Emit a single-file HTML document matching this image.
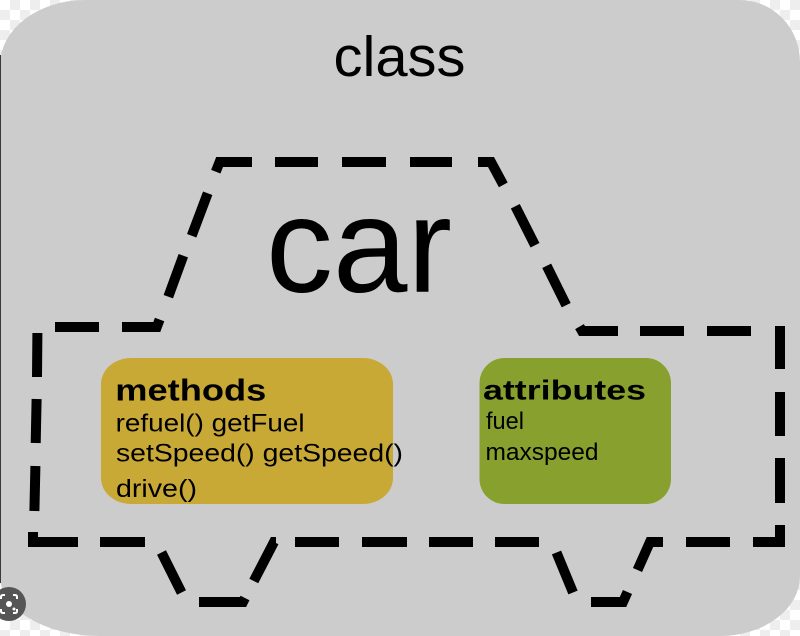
<!DOCTYPE html>
<html>
<head>
<meta charset="utf-8">
<style>
  html, body { margin: 0; padding: 0; background: #ffffff; }
  body { width: 800px; height: 636px; overflow: hidden; }
  svg { display: block; }
  text { font-family: "Liberation Sans", Arial, sans-serif; fill: #000; }
</style>
</head>
<body>
<svg width="800" height="636" viewBox="0 0 800 636" xmlns="http://www.w3.org/2000/svg">
  <defs>
    <pattern id="chk" x="0" y="0" width="20" height="20" patternUnits="userSpaceOnUse">
      <rect width="20" height="20" fill="#ffffff"/>
      <rect x="10" y="0" width="10" height="10" fill="#eeeeee"/>
      <rect x="0" y="10" width="10" height="10" fill="#eeeeee"/>
    </pattern>
  </defs>

  <!-- transparent checker background -->
  <rect x="0" y="0" width="800" height="636" fill="url(#chk)"/>

  <!-- main gray rounded shape -->
  <path d="M0,65 A85,65 0 0 1 85,0 L740,0 A60,62 0 0 1 800,62 L800,576 A80,60 0 0 1 720,636 L100,636 A100,60 0 0 1 0,576 Z" fill="#cccccc"/>
  <rect x="0" y="55" width="1" height="528" fill="#3a3a3a"/>

  <!-- class label -->
  <text x="333.5" y="76" font-size="57" textLength="132" lengthAdjust="spacingAndGlyphs">class</text>

  <!-- car label -->
  <text x="266" y="291.7" font-size="135" textLength="186" lengthAdjust="spacingAndGlyphs">car</text>

  <!-- dashed car outline -->
  <g fill="none" stroke="#000" stroke-width="10" stroke-linecap="butt" stroke-linejoin="miter" stroke-miterlimit="6">
    <path d="M215.8,171.7 L219.6,162 L252,162"/>
    <path d="M275,162 H318"/>
    <path d="M342,162 H386"/>
    <path d="M410,162 H452"/>
    <path d="M478,162 L491,162 L503.3,184.9"/>
    <path d="M515.3,206.2 L535,245.3"/>
    <path d="M546.7,265.8 L566.2,305.2"/>
    <path d="M579.5,326.6 L582,331 L618,331"/>
    <path d="M640,331 H684"/>
    <path d="M707,331 H751"/>
    <path d="M775,331 L780,331 L780,369"/>
    <path d="M780,392 V436"/>
    <path d="M780,458 V503"/>
    <path d="M780,525 L780,542 L753,542"/>
    <path d="M730,542 H686"/>
    <path d="M663,542 L650,542 L637.5,570"/>
    <path d="M627.5,592 L623,602 L591,602"/>
    <path d="M573,592.5 L556.5,552.5"/>
    <path d="M539,542 H495"/>
    <path d="M473,542 H429"/>
    <path d="M407,542 H362"/>
    <path d="M339,542 H295"/>
    <path d="M276,542 L274,542 L253.8,581"/>
    <path d="M245,598 L243,602 L199,602"/>
    <path d="M181.5,592.5 L161.5,552.5"/>
    <path d="M145,542 H100"/>
    <path d="M78,542 L33,542 L33,532"/>
    <path d="M34.4,511 L35.4,466"/>
    <path d="M35.7,443 L36.6,399"/>
    <path d="M37,377 L37.4,333"/>
    <path d="M55,327 H99"/>
    <path d="M122,327 L156.8,327 L159.6,319.5"/>
    <path d="M168.3,296.7 L183.3,255.7"/>
    <path d="M191.7,235.8 L207.7,193.3"/>
  </g>

  <!-- methods box -->
  <rect x="101" y="358" width="292" height="146" rx="30" ry="26" fill="#c8a936"/>
  <text x="115.3" y="400.7" font-size="31" font-weight="bold" textLength="151" lengthAdjust="spacingAndGlyphs">methods</text>
  <text x="115.6" y="431.7" font-size="25" textLength="189" lengthAdjust="spacingAndGlyphs">refuel() getFuel</text>
  <text x="116" y="461.7" font-size="25" textLength="287" lengthAdjust="spacingAndGlyphs">setSpeed() getSpeed()</text>
  <text x="116" y="497" font-size="25" textLength="81" lengthAdjust="spacingAndGlyphs">drive()</text>

  <!-- attributes box -->
  <rect x="479.5" y="358" width="191.5" height="146" rx="25" ry="25" fill="#88a02d"/>
  <text x="483" y="399.3" font-size="28" font-weight="bold" textLength="163" lengthAdjust="spacingAndGlyphs">attributes</text>
  <text x="486" y="429" font-size="24" textLength="38" lengthAdjust="spacingAndGlyphs">fuel</text>
  <text x="485.5" y="460" font-size="24" textLength="113" lengthAdjust="spacingAndGlyphs">maxspeed</text>

  <!-- lens icon bottom-left -->
  <circle cx="9" cy="604" r="17" fill="#555555"/>
  <g fill="none" stroke="#ffffff" stroke-width="2">
    <path d="M1,599 V597 Q1,595 3,595 H5"/>
    <path d="M13,595 H15 Q17,595 17,597 V599"/>
    <path d="M17,609 V611 Q17,613 15,613 H13"/>
    <path d="M5,613 H3 Q1,613 1,611 V609"/>
  </g>
  <circle cx="9" cy="604" r="3" fill="#ffffff"/>
  <circle cx="14" cy="609" r="1.5" fill="#ffffff"/>
</svg>
</body>
</html>
